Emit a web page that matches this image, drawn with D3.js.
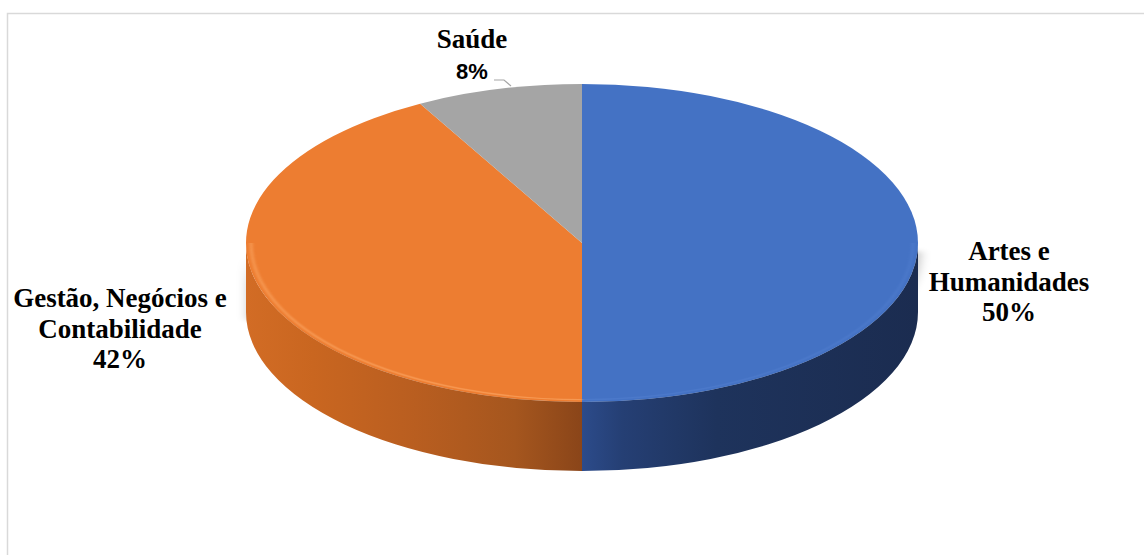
<!DOCTYPE html>
<html>
<head>
<meta charset="utf-8">
<script src="https://cdn.jsdelivr.net/npm/d3@7"></script>
<style>
  html, body { margin: 0; padding: 0; background: #fff; }
  svg { display: block; }
</style>
</head>
<body>
<svg id="chart" width="1144" height="555"></svg>
<script>
// Distribution of areas of study
const categories = ["Artes e Humanidades", "Gestão, Negócios e Contabilidade", "Saúde"];
const values = [50, 42, 8];
const labelLines = [["Artes e", "Humanidades"], ["Gestão, Negócios e", "Contabilidade"], ["Saúde"]];
const topColors = ["#4472C4", "#ED7D31", "#A5A5A5"];

const W = 1144, H = 555;
const cx = 582, cy = 243;      // centre of the top face
const rx = 336, ry = 159;      // ellipse radii of the top face
const depth = 69;              // thickness of the disc
const k = ry / rx;

const svg = d3.select("#chart");
const defs = svg.append("defs");

// chart frame
svg.append("rect")
  .attr("x", 7.5).attr("y", 13.5)
  .attr("width", W + 20).attr("height", H + 20)
  .attr("fill", "#fff").attr("stroke", "#d9d9d9").attr("stroke-width", 1.5);

// horizontal gradients for the rim, in the disc's local coordinates
function hGrad(id, stops) {
  const g = defs.append("linearGradient").attr("id", id)
    .attr("gradientUnits", "userSpaceOnUse")
    .attr("x1", -rx).attr("x2", rx).attr("y1", 0).attr("y2", 0);
  stops.forEach(([o, c]) => g.append("stop").attr("offset", o).attr("stop-color", c));
}
hGrad("rim0", [[0.5, "#2c4b8a"], [0.56, "#253f74"], [0.7, "#1e335c"], [1, "#1b2c50"]]);
hGrad("rim1", [[0, "#d26c25"], [0.1, "#c96620"], [0.25, "#b95e20"], [0.4, "#a5561e"], [0.5, "#8a4519"]]);
hGrad("rim2", [[0, "#7c7c7c"], [1, "#7c7c7c"]]);
const rimFills = ["url(#rim0)", "url(#rim1)", "url(#rim2)"];

const shadowF = defs.append("filter").attr("id", "shadow")
  .attr("x", "-20%").attr("y", "-20%").attr("width", "140%").attr("height", "140%");
shadowF.append("feGaussianBlur").attr("stdDeviation", 6);

const glowF = defs.append("filter").attr("id", "glow")
  .attr("x", "-10%").attr("y", "-10%").attr("width", "120%").attr("height", "120%");
glowF.append("feGaussianBlur").attr("stdDeviation", 1.6);

const pie = d3.pie().sort(null).value(d => d).startAngle(0).endAngle(2 * Math.PI);
const arcs = pie(values);

// everything is drawn in circle space, then squashed vertically into an ellipse
const scaled = svg.append("g").attr("transform", `translate(${cx},${cy}) scale(1,${k})`);
const dy = depth / k;

// soft shadow under the disc
const shadowPath = d3.path();
shadowPath.arc(0, 0, rx, 0, Math.PI);
shadowPath.arc(0, dy, rx, Math.PI, 0, true);
shadowPath.arc(0, dy, rx, 0, Math.PI);
shadowPath.closePath();
scaled.append("path")
  .attr("d", shadowPath.toString())
  .attr("transform", `translate(2,${8 / k})`)
  .attr("fill", "#000").attr("opacity", 0.25)
  .attr("filter", "url(#shadow)");

// visible front rim of each slice (angles measured clockwise from 12 o'clock)
const toCanvas = a => a - Math.PI / 2;
arcs.forEach((d, i) => {
  const a0 = Math.max(d.startAngle, Math.PI / 2);
  const a1 = Math.min(d.endAngle, 3 * Math.PI / 2);
  if (a1 <= a0) return;
  const p = d3.path();
  p.arc(0, 0, rx, toCanvas(a0), toCanvas(a1));
  p.arc(0, dy, rx, toCanvas(a1), toCanvas(a0), true);
  p.closePath();
  scaled.append("path")
    .attr("d", p.toString())
    .attr("fill", rimFills[i]);
});

// top faces
const arcGen = d3.arc().innerRadius(0).outerRadius(rx);
scaled.selectAll("path.top")
  .data(arcs)
  .join("path")
  .attr("class", "top")
  .attr("d", arcGen)
  .attr("fill", (d, i) => topColors[i]);

// bevel highlight along the front edge of the top face
const bevelColors = ["#5a86d6", "#f9a05c", "#bdbdbd"];
arcs.forEach((d, i) => {
  const a0 = Math.max(d.startAngle, Math.PI / 2);
  const a1 = Math.min(d.endAngle, 3 * Math.PI / 2);
  if (a1 <= a0) return;
  const p = d3.path();
  p.arc(0, 0, rx - 5, toCanvas(a0), toCanvas(a1));
  scaled.append("path")
    .attr("d", p.toString())
    .attr("fill", "none")
    .attr("stroke", bevelColors[i])
    .attr("stroke-width", 3)
    .attr("opacity", i === 1 ? 0.8 : 0.35)
    .attr("filter", "url(#glow)");
});

// labels
const serif = "'Liberation Serif', 'Times New Roman', serif";
const sans = "'Liberation Sans', Arial, sans-serif";
const labelPos = [
  { x: 1009, y: 260, size: 27 },
  { x: 120, y: 307, size: 27 },
  { x: 472, y: 48, size: 27 }
];
const lineH = 30.5;
labelPos.forEach((pos, i) => {
  const t = svg.append("text")
    .attr("text-anchor", "middle")
    .attr("font-family", serif)
    .attr("font-weight", "bold")
    .attr("font-size", pos.size)
    .attr("fill", "#000");
  labelLines[i].forEach((ln, j) => {
    t.append("tspan").attr("x", pos.x).attr("y", pos.y + j * lineH).text(ln);
  });
  const pct = d3.format(".0f")(values[i] / d3.sum(values) * 100) + "%";
  svg.append("text")
    .attr("x", pos.x)
    .attr("y", pos.y + labelLines[i].length * lineH)
    .attr("text-anchor", "middle")
    .attr("font-family", i === 2 ? sans : serif)
    .attr("font-weight", "bold")
    .attr("font-size", i === 2 ? 22 : pos.size)
    .attr("fill", "#000")
    .text(pct);
});

// leader line for the small slice
svg.append("path")
  .attr("d", d3.line()([[494, 80], [504, 80], [511, 86]]))
  .attr("fill", "none")
  .attr("stroke", "#a6a6a6")
  .attr("stroke-width", 1.2);
</script>
</body>
</html>
